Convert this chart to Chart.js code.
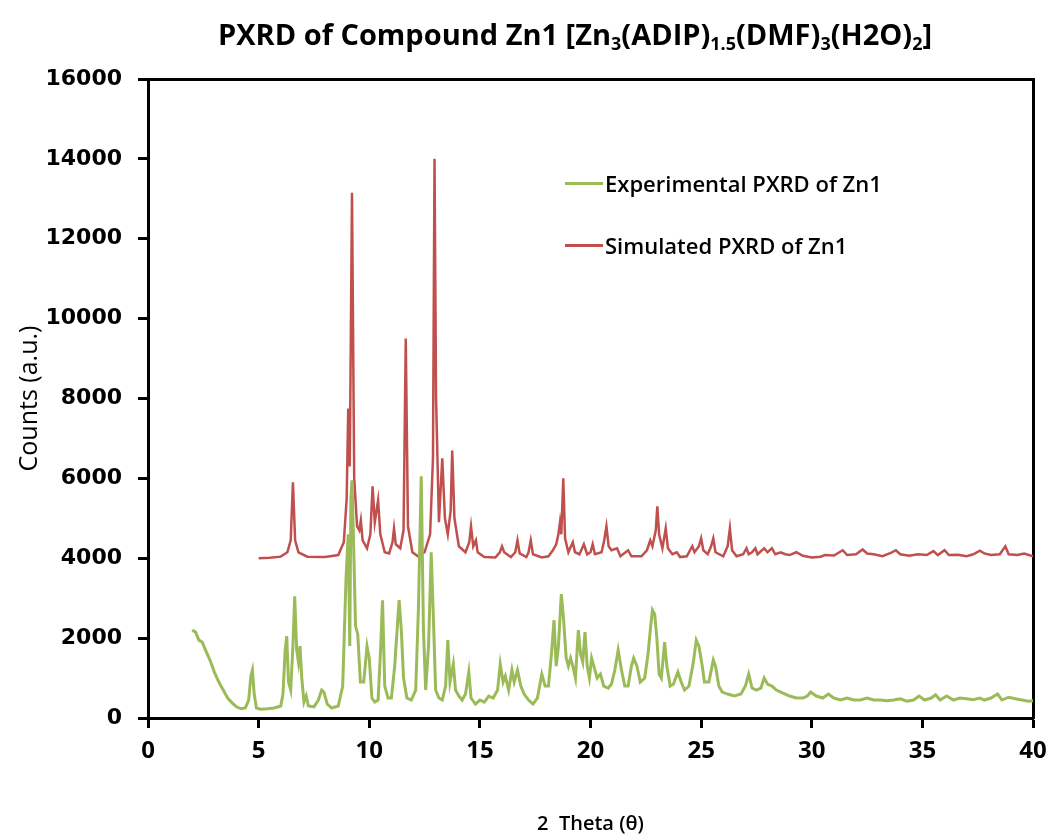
<!DOCTYPE html>
<html>
<head>
<meta charset="utf-8">
<script src="https://cdn.jsdelivr.net/npm/chart.js@4.4.1/dist/chart.umd.min.js"></script>
<style>
  body { margin: 0; background: #fff; }
  #wrap { position: relative; width: 1051px; height: 840px; }
  #title {
    position: absolute; left: 218px; top: 19px;
    font: 700 29px 'Open Sans', sans-serif; color: #000; white-space: nowrap; line-height: 1;
  }
  #title sub { font-size: 0.62em; vertical-align: -0.3em; line-height: 0; }
  .leg { position: absolute; left: 565px; font: 600 22px 'Open Sans', sans-serif; color: #000;
         white-space: nowrap; display: flex; align-items: center; height: 30px; }
  .leg i { display: inline-block; width: 38px; height: 3px; margin-right: 2px; }
</style>
</head>
<body>
<div id="wrap">
  <canvas id="pxrd"></canvas>
  <div id="title">PXRD of Compound Zn1 [Zn<sub>3</sub>(ADIP)<sub>1.5</sub>(DMF)<sub>3</sub>(H2O)<sub>2</sub>]</div>
  <div id="legend"></div>
</div>
<script>
'use strict';

// ── Data (2θ, counts) ────────────────────────────────────
const expLabel = 'Experimental PXRD of Zn1';
const simLabel = 'Simulated PXRD of Zn1';

const expPoints = [
  [2.0,2200],[2.15,2150],[2.3,1950],[2.45,1900],[2.6,1700],[2.8,1450],[3.0,1150],[3.2,900],[3.4,700],[3.6,500],
  [3.8,380],[4.0,280],[4.2,230],[4.4,250],[4.55,450],[4.65,1050],[4.72,1200],[4.8,600],[4.9,250],[5.1,220],
  [5.4,230],[5.7,250],[6.0,300],[6.1,600],[6.2,1700],[6.27,2050],[6.35,900],[6.45,700],[6.55,1800],[6.63,3050],
  [6.72,1700],[6.8,1400],[6.87,1800],[6.95,1000],[7.05,400],[7.15,550],[7.25,300],[7.5,280],[7.7,450],[7.85,700],
  [7.95,650],[8.1,350],[8.3,250],[8.6,300],[8.8,800],[8.95,3500],[9.05,4600],[9.12,1800],[9.17,5500],[9.22,5950],
  [9.3,4200],[9.38,2300],[9.48,2100],[9.6,900],[9.75,900],[9.9,1800],[10.0,1500],[10.12,500],[10.25,400],[10.4,450],
  [10.52,1800],[10.6,2950],[10.7,800],[10.85,500],[11.0,500],[11.15,1300],[11.27,2300],[11.35,2950],[11.45,2200],[11.55,1000],
  [11.7,500],[11.9,450],[12.1,700],[12.22,2700],[12.35,6050],[12.45,2200],[12.55,700],[12.68,1800],[12.8,4150],[12.9,2500],
  [13.0,700],[13.15,500],[13.3,450],[13.45,800],[13.55,1950],[13.65,900],[13.8,1350],[13.9,700],[14.05,550],[14.2,450],
  [14.35,600],[14.5,1150],[14.6,500],[14.8,350],[15.0,450],[15.2,400],[15.4,550],[15.6,500],[15.8,700],[15.92,1350],
  [16.05,900],[16.15,1050],[16.3,700],[16.45,1200],[16.55,900],[16.7,1200],[16.85,800],[17.0,600],[17.2,450],[17.4,350],
  [17.6,500],[17.8,1100],[17.95,800],[18.1,800],[18.25,1700],[18.35,2450],[18.45,1300],[18.55,1800],[18.68,3100],[18.78,2500],
  [18.9,1500],[19.0,1300],[19.1,1500],[19.2,1300],[19.32,1000],[19.45,2200],[19.55,1600],[19.65,1400],[19.75,2150],[19.85,1300],
  [19.95,1000],[20.05,1500],[20.15,1300],[20.3,1000],[20.45,1100],[20.6,800],[20.8,750],[20.95,850],[21.1,1200],[21.25,1700],
  [21.4,1200],[21.55,800],[21.7,800],[21.85,1300],[21.95,1500],[22.1,1300],[22.25,900],[22.45,1000],[22.6,1600],[22.72,2300],
  [22.8,2700],[22.9,2600],[23.0,2000],[23.1,1100],[23.2,1000],[23.35,1900],[23.45,1300],[23.6,800],[23.75,850],[23.95,1150],
  [24.1,900],[24.25,700],[24.45,800],[24.65,1400],[24.78,1950],[24.9,1800],[25.05,1300],[25.15,900],[25.35,900],[25.55,1450],
  [25.65,1300],[25.8,800],[25.95,650],[26.2,600],[26.5,550],[26.8,600],[27.0,800],[27.15,1100],[27.3,750],[27.5,700],
  [27.7,750],[27.85,1000],[28.0,850],[28.2,800],[28.4,700],[28.6,650],[28.8,600],[29.0,550],[29.3,500],[29.6,500],
  [29.8,550],[29.95,650],[30.2,550],[30.5,500],[30.75,600],[31.0,500],[31.3,450],[31.6,500],[31.9,450],[32.2,450],
  [32.5,500],[32.8,450],[33.1,450],[33.4,430],[33.7,450],[34.0,480],[34.3,420],[34.6,450],[34.85,550],[35.1,450],
  [35.4,500],[35.6,580],[35.8,450],[36.1,550],[36.4,450],[36.7,500],[37.0,480],[37.3,460],[37.6,500],[37.8,450],
  [38.1,500],[38.4,600],[38.6,450],[38.9,520],[39.2,480],[39.5,450],[39.8,420],[40.0,430]
];

const simPoints = [
  [5.0,4000],[5.5,4010],[6.0,4040],[6.3,4150],[6.45,4450],[6.55,5900],[6.65,4450],[6.8,4150],[7.2,4040],[8.0,4030],
  [8.6,4080],[8.85,4400],[8.98,5500],[9.05,7750],[9.12,6300],[9.22,13150],[9.32,6000],[9.45,4800],[9.55,4700],[9.62,4950],
  [9.7,4450],[9.9,4250],[10.05,4600],[10.15,5800],[10.25,4900],[10.4,5450],[10.5,4600],[10.7,4150],[10.9,4120],[11.05,4400],
  [11.12,4750],[11.2,4350],[11.4,4250],[11.55,4700],[11.65,9500],[11.75,4800],[11.95,4150],[12.2,4050],[12.5,4150],[12.75,4600],
  [12.88,6500],[12.95,14000],[13.02,8000],[13.15,4900],[13.3,6500],[13.42,5000],[13.55,4600],[13.68,5200],[13.75,6700],[13.85,5000],
  [14.05,4300],[14.35,4150],[14.52,4400],[14.6,4800],[14.7,4300],[14.82,4450],[14.9,4150],[15.2,4030],[15.7,4020],[15.9,4150],
  [16.0,4300],[16.1,4150],[16.4,4030],[16.6,4150],[16.7,4450],[16.8,4120],[17.1,4030],[17.2,4150],[17.3,4450],[17.4,4100],
  [17.8,4020],[18.1,4050],[18.3,4200],[18.45,4350],[18.55,4600],[18.62,4900],[18.68,4600],[18.77,6000],[18.85,4500],[19.0,4150],
  [19.2,4400],[19.3,4150],[19.5,4100],[19.7,4350],[19.85,4100],[20.0,4150],[20.1,4350],[20.2,4100],[20.5,4150],[20.62,4450],
  [20.72,4800],[20.82,4300],[20.95,4200],[21.2,4250],[21.35,4050],[21.7,4200],[21.85,4050],[22.3,4050],[22.55,4200],[22.7,4450],
  [22.8,4300],[22.95,4700],[23.02,5300],[23.1,4600],[23.25,4250],[23.4,4750],[23.5,4250],[23.7,4100],[23.9,4150],[24.05,4030],
  [24.35,4050],[24.6,4300],[24.7,4150],[24.9,4300],[25.0,4500],[25.1,4200],[25.3,4100],[25.45,4300],[25.55,4500],[25.65,4150],
  [26.0,4050],[26.2,4300],[26.3,4750],[26.4,4200],[26.6,4050],[26.9,4100],[27.05,4250],[27.15,4100],[27.3,4150],[27.45,4250],
  [27.55,4100],[27.85,4250],[28.0,4150],[28.2,4250],[28.35,4100],[28.6,4150],[28.8,4100],[29.0,4080],[29.3,4150],[29.6,4060],
  [30.0,4020],[30.4,4040],[30.6,4080],[31.0,4070],[31.4,4200],[31.6,4080],[32.0,4100],[32.3,4220],[32.5,4120],[32.8,4100],
  [33.2,4050],[33.6,4140],[33.8,4200],[34.0,4100],[34.4,4060],[34.8,4100],[35.2,4080],[35.5,4180],[35.7,4080],[36.0,4200],
  [36.2,4080],[36.6,4090],[37.0,4050],[37.3,4100],[37.6,4190],[37.8,4120],[38.1,4080],[38.5,4100],[38.75,4300],[38.9,4100],
  [39.3,4080],[39.6,4120],[40.0,4050]
];

const xRange = [0, 40, 5];
const yRange = [0, 16000, 2000];

const COLORS = { exp: '#9bbb59', sim: '#c0504d' };

const toXY = pts => pts.map(p => ({ x: p[0], y: p[1] }));

// ── Legend (html so it can sit inside the plot) ──────────
const legendRows = [
  { label: expLabel, color: COLORS.exp, top: 168 },
  { label: simLabel, color: COLORS.sim, top: 230 },
];
document.getElementById('legend').innerHTML = legendRows.map(r =>
  `<div class="leg" style="top:${r.top}px"><i style="background:${r.color}"></i>${r.label}</div>`).join('');

// ── Chart ────────────────────────────────────────────────
const frameAxis = { display: true, ticks: { display: false }, grid: { display: false },
                    border: { display: true, color: '#000', width: 3 } };

new Chart(document.getElementById('pxrd'), {
  type: 'line',
  data: {
    datasets: [
      { label: expLabel, data: toXY(expPoints), borderColor: COLORS.exp, borderWidth: 3, pointRadius: 0, tension: 0 },
      { label: simLabel, data: toXY(simPoints), borderColor: COLORS.sim, borderWidth: 2.5, pointRadius: 0, tension: 0 },
    ]
  },
  options: {
    responsive: true, maintainAspectRatio: false, animation: false,
    layout: { padding: { top: 79, right: 18, left: 0, bottom: 0 } },
    plugins: { legend: { display: false }, tooltip: { enabled: false } },
    scales: {
      x: {
        type: 'linear', min: xRange[0], max: xRange[1],
        // keep the "40" label from pulling the plot edge in
        afterFit: s => { s.height = 122; s.paddingRight = 0; s.paddingLeft = 0; },
        ticks: { stepSize: xRange[2], color: '#000', padding: 9, font: { family: "'Open Sans', sans-serif", size: 24, weight: 'bold' } },
        grid: { drawOnChartArea: false, tickLength: 10, tickWidth: 3, tickColor: '#000' },
        border: { color: '#000', width: 3 },
        title: { display: true, text: '2  Theta (\u03B8)', color: '#000', padding: { top: 4, bottom: 4 },
                 font: { family: "'Open Sans', sans-serif", size: 20, weight: '600' } }
      },
      y: {
        min: yRange[0], max: yRange[1],
        afterFit: s => { s.width = 148; },
        ticks: { stepSize: yRange[2], color: '#000', padding: 16, format: { useGrouping: false },
                 font: { family: "'DejaVu Sans', sans-serif", size: 22, weight: 'bold' } },
        grid: { drawOnChartArea: false, tickLength: 10, tickWidth: 3, tickColor: '#000' },
        border: { color: '#000', width: 3 },
        title: { display: true, text: 'Counts (a.u.)', color: '#000', padding: { top: 15, bottom: 0 },
                 font: { family: "'Open Sans', sans-serif", size: 25 } }
      },
      xTop:   { ...frameAxis, position: 'top',   afterFit: s => { s.height = 0; } },
      yRight: { ...frameAxis, position: 'right', afterFit: s => { s.width = 0; } },
    }
  }
});
</script>
</body>
</html>
